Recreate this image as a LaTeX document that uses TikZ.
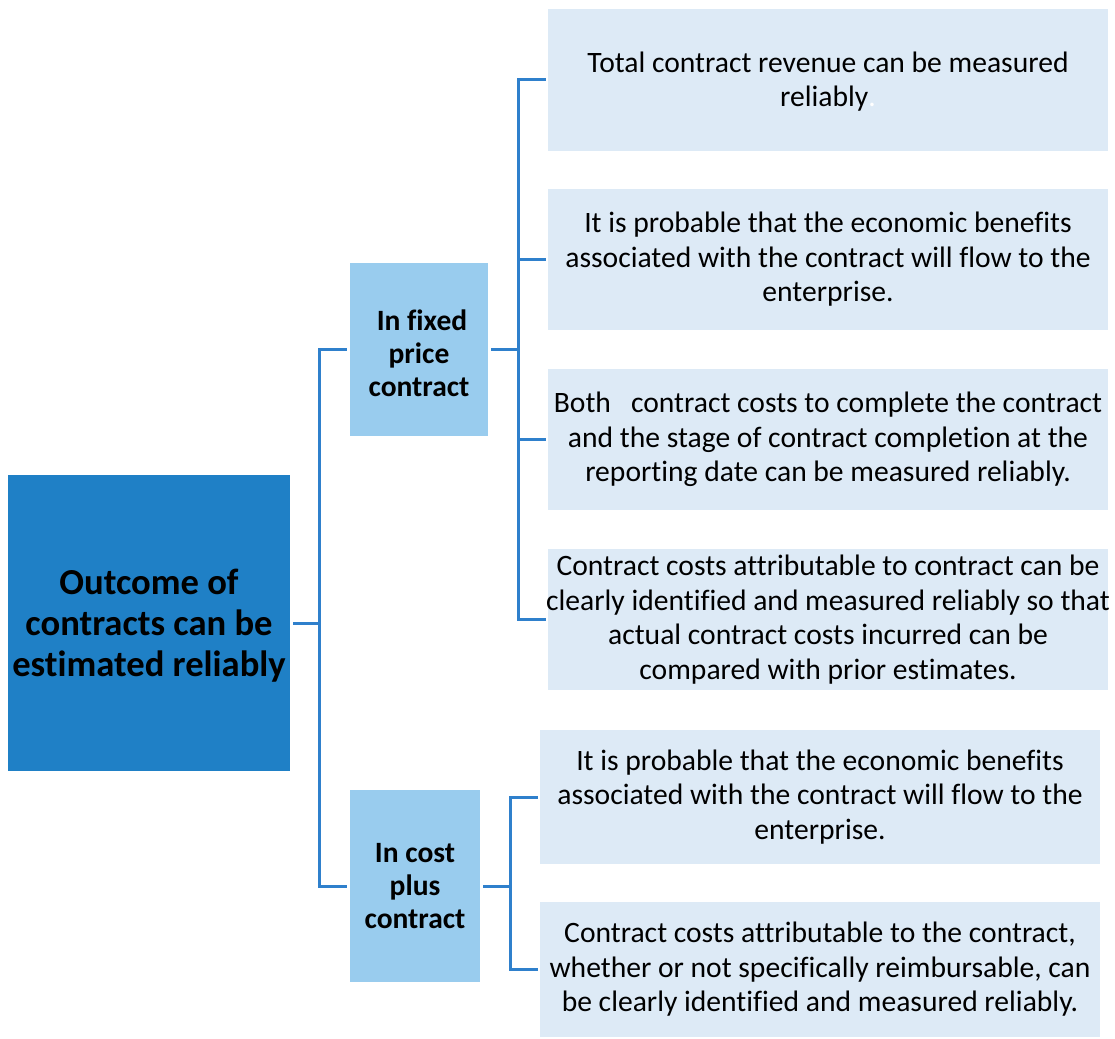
\documentclass[tikz,border=0pt]{standalone}
\usepackage{fontspec}
\setmainfont{Carlito}[Ligatures=NoCommon]
\definecolor{mainblue}{HTML}{1F80C6}
\definecolor{midblue}{HTML}{99CCEE}
\definecolor{paleblue}{HTML}{DDEAF6}
\definecolor{linkblue}{HTML}{2F80CC}
\begin{document}
\begin{tikzpicture}[x=1pt,y=-1pt,
  box/.style={rectangle,inner sep=0pt,align=center,text=black},
  mainbox/.style={box,fill=mainblue,minimum width=282pt,minimum height=296pt,
     font=\fontsize{36.6}{41}\selectfont\bfseries},
  midbox/.style={box,fill=midblue,font=\fontsize{29.5}{33}\selectfont\bfseries},
  leafbox/.style={box,fill=paleblue,minimum width=560pt,inner xsep=-4pt,
     font=\fontsize{29.6}{34.5}\selectfont},
  link/.style={draw=linkblue,line width=3pt}]
\useasboundingbox (0,0) rectangle (1115,1038);
\node[mainbox] (main) at (149,623) {\rule{0pt}{31pt}Outcome of\\contracts can be\\estimated reliably};
\node[midbox,minimum width=138pt,minimum height=173pt] (fixed) at (419,349.5) {\rule{0pt}{29pt}\hspace*{6pt}In fixed\\price\\contract};
\node[midbox,minimum width=130pt,minimum height=192pt] (cost) at (415,886) {In cost\\plus\\contract};
\node[leafbox,minimum height=142pt] (r1) at (828,80) {\rule{0pt}{24pt}Total contract revenue can be measured\\reliably{\color{white}.}};
\node[leafbox,minimum height=141pt] (r2) at (828,259.5) {It is probable that the economic benefits\\associated with the contract will flow to the\\enterprise.};
\node[leafbox,minimum height=141pt] (r3) at (828,439.5) {Both\ \ \ contract costs to complete the contract\\and the stage of contract completion at the\\reporting date can be measured reliably.};
\node[leafbox,minimum height=141pt] (r4) at (828,619.5) {Contract costs attributable to contract can be\\clearly identified and measured reliably so that\\actual contract costs incurred can be\\compared with prior estimates.};
\node[leafbox,minimum height=134pt] (c1) at (820,797) {It is probable that the economic benefits\\associated with the contract will flow to the\\enterprise.};
\node[leafbox,minimum height=135pt] (c2) at (820,969.5) {Contract costs attributable to the contract,\\whether or not specifically reimbursable, can\\be clearly identified and measured reliably.};
% junctions
\coordinate (jm) at (319,623);
\coordinate (jf) at (518,349.5);
\coordinate (jc) at (510,886);
% main connectors
\draw[link] ([xshift=3pt]main.east |- jm) -- (jm);
\draw[link] (jm) |- ([xshift=-3pt]fixed.west);
\draw[link] (jm) |- ([xshift=-3pt]cost.west);
% fixed price connectors
\draw[link] ([xshift=3pt]fixed.east) -- (jf);
\foreach \n in {r1,r2,r3,r4}{\draw[link] (jf) |- ([xshift=-2pt]\n.west);}
% cost plus connectors
\draw[link] ([xshift=3pt]cost.east) -- (jc);
\draw[link] (jc) |- ([xshift=-2pt]c1.west);
\draw[link] (jc) |- ([xshift=-2pt]c2.west);
\end{tikzpicture}
\end{document}
